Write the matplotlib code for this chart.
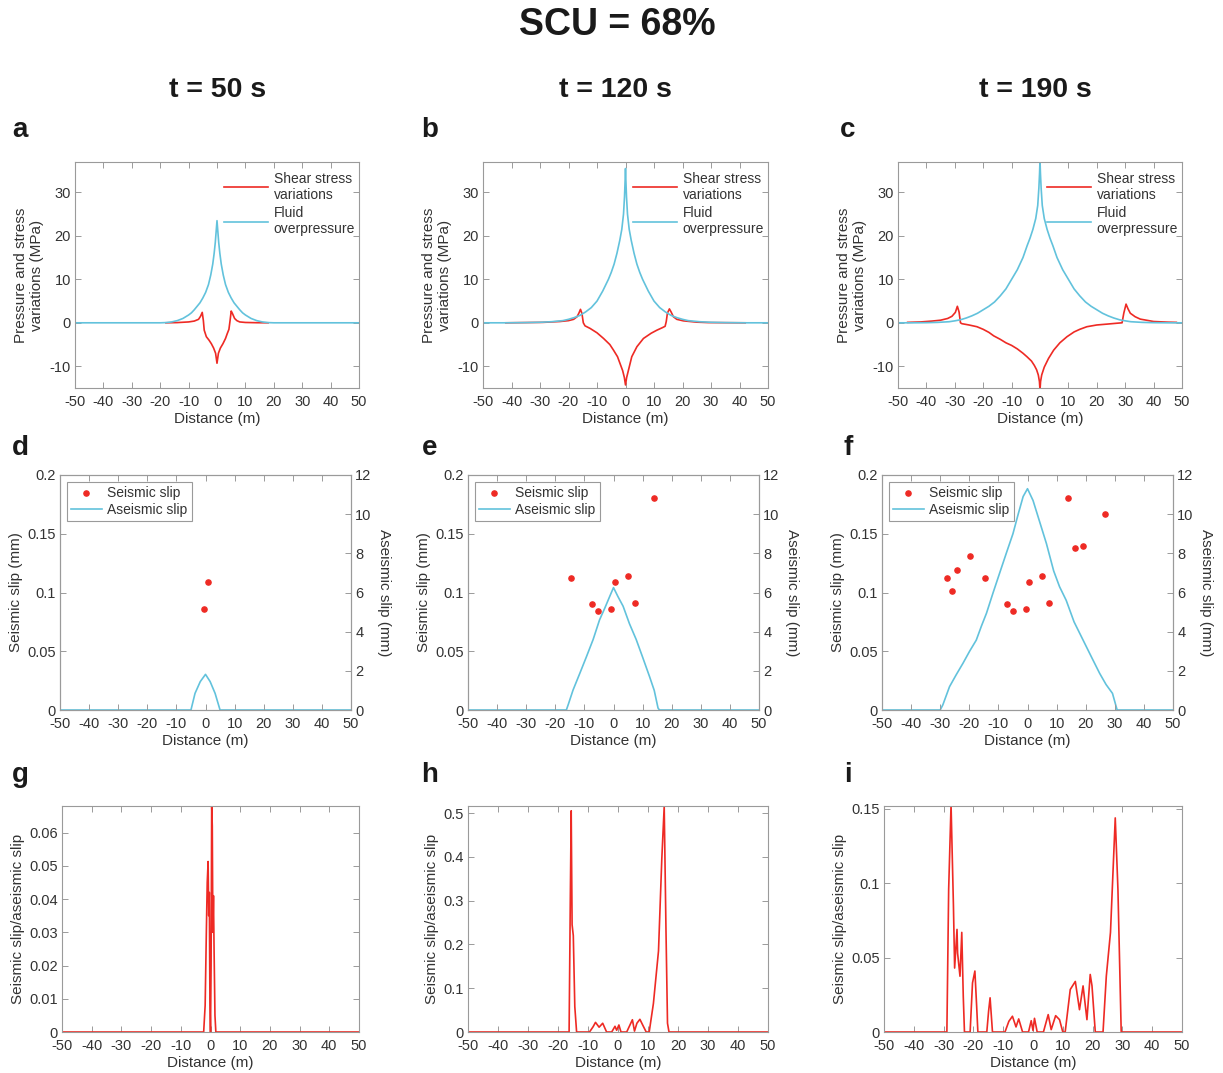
import numpy as np
import matplotlib
matplotlib.use('Agg')
import matplotlib.pyplot as plt

plt.rcParams['font.family'] = ['Liberation Sans', 'DejaVu Sans']
plt.rcParams['axes.unicode_minus'] = False
plt.rcParams['text.color'] = '#333333'
plt.rcParams['axes.labelcolor'] = '#333333'
plt.rcParams['xtick.color'] = '#333333'
plt.rcParams['ytick.color'] = '#333333'

RED = '#EE2A24'
CYAN = '#62C2DC'
EDGE = '#9a9a9a'

# ---- row 1: fluid overpressure / shear stress (MPa) ----
fluid_a_x = [-50, -20, -18, -16, -14, -12, -10, -9, -8, -7, -6, -5, -4, -3, -2.2, -1.5, -1, -0.6, -0.3, 0,
             0.3, 0.6, 1, 1.5, 2.2, 3, 4, 5, 6, 7, 8, 9, 10, 12, 14, 16, 18, 20, 50]
fluid_a_y = [0, 0, 0.05, 0.2, 0.5, 1.0, 1.8, 2.3, 3.0, 3.8, 4.6, 5.7, 7.0, 8.8, 11, 13.5, 16, 18.5, 21, 23.5,
             21, 18.5, 16, 13.5, 11, 8.8, 7.0, 5.7, 4.6, 3.8, 3.0, 2.3, 1.8, 1.0, 0.5, 0.2, 0.05, 0, 0]
shear_a_x = [-18, -14, -10, -8, -6.5, -5.8, -5.2, -4.8, -4.5, -3.75, -2.8, -2, -1.2, -0.5, 0,
             0.5, 1.2, 2.1, 3, 3.6, 4.2, 4.6, 5.0, 5.4, 6.2, 7, 8, 10, 14, 18]
shear_a_y = [0, 0.05, 0.2, 0.4, 0.8, 1.5, 2.4, 0.5, -1.7, -3.2, -4.0, -4.8, -5.8, -7.0, -9.3,
             -7.0, -5.8, -4.8, -3.6, -2.5, -1.5, 0.5, 2.7, 2.2, 1.0, 0.5, 0.2, 0.08, 0.02, 0]

fluid_b_x = [-50, -42, -35, -30, -26, -22, -20, -18, -16, -14, -12, -10, -8, -6, -5, -4, -3, -2, -1.3,
             -0.7, -0.35, -0.12, 0, 0.12, 0.35, 0.7, 1.3, 2, 3, 4, 5, 6, 8, 10, 12, 14, 16, 18, 20, 22,
             26, 30, 35, 42, 50]
fluid_b_y = [0, 0, 0.05, 0.12, 0.25, 0.5, 0.8, 1.2, 1.7, 2.5, 3.5, 5.0, 7.3, 10, 11.6, 13.5, 16, 19,
             21.5, 25, 29, 33, 35.5, 33, 29, 25, 21.5, 19, 16, 13.5, 11.6, 10, 7.3, 5.0, 3.5, 2.5, 1.7,
             1.2, 0.8, 0.5, 0.25, 0.12, 0.05, 0, 0]
shear_b_x = [-42, -29, -23, -20, -18.2, -17, -16.3, -15.8, -15.3, -14.8, -14.2, -12.4, -10, -7.7,
             -5.5, -4.2, -2.8, -1.9, -1, -0.4, 0, 0.4, 1, 2.2, 4, 6.3, 9, 11, 13, 13.9, 14.3,
             14.7, 15.4, 16, 16.8, 18, 20.3, 25, 29, 42]
shear_b_y = [0, 0.1, 0.3, 0.5, 0.8, 1.4, 2.3, 3.1, 2.2, 0, -0.7, -1.3, -2.3, -3.6,
             -5.0, -6.3, -7.8, -9.4, -11, -12.6, -14.3, -12.6, -11, -7.8, -5.5, -3.6, -2.4, -1.7, -1.1,
             -0.8, 0.3, 2.2, 3.2, 2.5, 1.4, 0.8, 0.45, 0.15, 0.05, 0]

fluid_c_x = [-50, -45, -40, -36, -32, -30, -28, -26, -24, -22, -20, -18, -16, -14, -12, -10, -8, -6,
             -4.5, -3.5, -2.5, -1.5, -0.8, -0.4, -0.15, 0, 0.15, 0.4, 0.8, 1.5, 2.5, 3.5, 4.5, 6, 8, 10,
             12, 14, 16, 18, 20, 22, 24, 26, 28, 30, 32, 36, 40, 45, 50]
fluid_c_y = [0, 0, 0.03, 0.1, 0.25, 0.45, 0.7, 1.1, 1.6, 2.2, 3.0, 3.8, 4.8, 6.2, 7.8, 10, 12.2, 15,
             17.8, 19.5, 21.5, 24, 27, 31, 34.5, 37.5, 34.5, 31, 27, 24, 21.5, 19.5, 17.8, 15, 12.2, 10,
             7.8, 6.2, 4.8, 3.8, 3.0, 2.2, 1.6, 1.1, 0.7, 0.45, 0.25, 0.1, 0.03, 0, 0]
shear_c_x = [-46.6, -42, -38, -35, -32.5, -31, -29.8, -29.1, -28.5, -28, -27.5, -25, -22.2, -20, -18,
             -16.3, -14, -12, -10, -8, -6, -4.6, -3, -2, -1.2, -0.6, -0.2, 0, 0.2, 0.6, 1.5, 3, 4.8, 7,
             9.5, 12, 14, 16.5, 20, 23.6, 27, 28.9, 29.5, 30.3, 31, 31.8, 33.5, 35.3, 40, 45, 48]
shear_c_y = [0.1, 0.2, 0.4, 0.6, 1.0, 1.5, 2.4, 3.8, 2.5, 0, -0.2, -0.5, -0.9, -1.5, -2.2,
             -3.0, -3.8, -4.6, -5.2, -6.0, -7.0, -7.8, -8.8, -9.8, -10.8, -12.0, -13.5, -15.5, -13.5,
             -12.0, -10.2, -8.2, -6.3, -4.6, -3.2, -2.1, -1.5, -0.9, -0.5, -0.3, -0.1, 0, 2.2, 4.3,
             3.2, 2.2, 1.4, 0.85, 0.3, 0.15, 0.1]

# ---- row 2: seismic (mm, points) and aseismic (mm, line) slip ----
aseis_d_x = [-50, -5, -3.6, -1.8, 0, 1.6, 3.3, 5, 50]
aseis_d_y = [0, 0, 0.85, 1.45, 1.82, 1.45, 0.85, 0, 0]
seis_d_x = [-0.6, 0.7]
seis_d_y = [0.0857, 0.1087]

aseis_e_x = [-50, -16.2, -15.5, -13.9, -11.5, -9.3, -7, -4.8, -3, -1.3, 0, 1.5, 3.3, 5.5, 7.8,
             10, 12.4, 14, 15.3, 15.8, 50]
aseis_e_y = [0, 0, 0.3, 1.02, 1.9, 2.72, 3.6, 4.6, 5.2, 5.8, 6.25, 5.8, 5.3, 4.4, 3.6,
             2.7, 1.7, 1.0, 0.1, 0, 0]
seis_e_x = [-14.6, -7.3, -5.2, -0.75, 0.4, 5.0, 7.5, 13.9]
seis_e_y = [0.1123, 0.0902, 0.0843, 0.0857, 0.1087, 0.114, 0.0913, 0.1807]

aseis_f_x = [-50, -30, -29.1, -26.8, -24.5, -22.2, -19.9, -17.6, -15.8, -14.1, -11.8, -9.6, -7.3,
             -5, -3.2, -1.5, 0, 1.9, 4.2, 6.5, 9, 11, 13.3, 16, 19.1, 22, 24.8, 27, 29.2, 30.8, 50]
aseis_f_y = [0, 0, 0.26, 1.19, 1.8, 2.38, 3.0, 3.57, 4.3, 4.94, 6.0, 6.98, 8.0,
             9.0, 10.0, 10.9, 11.3, 10.7, 9.6, 8.5, 7.1, 6.3, 5.6, 4.5, 3.57, 2.7, 1.87, 1.3, 0.85, 0, 0]
seis_f_x = [-27.7, -25.8, -24.3, -19.7, -14.6, -7.0, -5.1, -0.5, 0.5, 5.1, 7.5, 13.9, 16.4, 19.1, 26.8]
seis_f_y = [0.1126, 0.101, 0.119, 0.1308, 0.1126, 0.0905, 0.084, 0.0857, 0.1087, 0.114, 0.0913,
            0.1807, 0.1379, 0.1396, 0.167]

# ---- row 3: seismic/aseismic slip ratio ----
ratio_g_x = [-50, -2.3, -1.8, -1.4, -1.1, -0.8, -0.6, -0.4, -0.2, 0, 0.2, 0.4, 0.6, 0.8, 1.0, 1.2, 1.5, 1.8, 50]
ratio_g_y = [0, 0, 0.008, 0.03, 0.045, 0.0513, 0.035, 0.042, 0.01, 0, 0.02, 0.068, 0.062, 0.03, 0.041,
             0.025, 0.005, 0, 0]

ratio_h_x = [-50, -16.3, -15.9, -15.6, -15.3, -14.9, -14.4, -13.8, -9.5, -8.3, -7.5, -6.3, -5.1, -3.8,
             -2.1, -1.0, -0.45, 0.3, 1.0, 2.9, 4.8, 5.5, 6.3, 7.3, 8.3, 9.4, 10.4, 11.8, 13.5, 14.6,
             15.4, 16.0, 16.5, 17.0, 50]
ratio_h_y = [0, 0, 0.3, 0.505, 0.245, 0.22, 0.058, 0, 0, 0.012, 0.022, 0.011, 0.02, 0,
             0, 0.013, 0.004, 0.016, 0, 0, 0.028, 0.002, 0.02, 0.029, 0.015, 0, 0, 0.065, 0.185, 0.395,
             0.515, 0.23, 0.02, 0, 0]

ratio_i_x = [-50, -28.9, -28.3, -27.5, -26.7, -26.3, -25.5, -25.3, -24.5, -23.9, -23.4, -23, -21.1,
             -20.3, -19.5, -18.9, -18.5, -15.5, -14.9, -14.4, -13.6, -9.4, -8.1, -6.9, -5.7, -4.8,
             -3.5, -1.5, -0.6, 0, 0.5, 1.4, 3.5, 5.1, 6.1, 7.6, 8.9, 10, 10.8, 12.5, 14.2, 15.6,
             16.8, 18.1, 19.2, 19.8, 20.9, 23.5, 24.6, 26, 27.6, 28.5, 29.6, 50]
ratio_i_y = [0, 0, 0.096, 0.153, 0.085, 0.043, 0.069, 0.053, 0.0375, 0.067, 0.024, 0, 0,
             0.033, 0.041, 0.017, 0, 0, 0.014, 0.023, 0, 0, 0.0072, 0.0106, 0.0034, 0.0088,
             0, 0, 0.0076, 0.001, 0.0092, 0, 0, 0.0117, 0.0016, 0.011, 0.0083, 0, 0, 0.0286, 0.034, 0.015,
             0.031, 0.0083, 0.0387, 0.031, 0, 0, 0.0375, 0.067, 0.144, 0.096, 0, 0]

W, H = 1223, 1073
fig = plt.figure(figsize=(W / 100, H / 100), dpi=100)


def add_ax(l, r, t, b):
    return fig.add_axes([l / W, 1 - b / H, (r - l) / W, (b - t) / H])


def style(ax, right=True):
    for s in ax.spines.values():
        s.set_color(EDGE)
        s.set_linewidth(0.8)
    ax.tick_params(direction='in', length=4, width=0.7, color=EDGE, labelsize=10.5,
                   top=True, right=right, pad=3)
    ax.tick_params(axis='x', pad=5)
    ax.set_xlim(-50, 50)
    ax.set_xticks(np.arange(-50, 51, 10))
    ax.set_xlabel('Distance (m)', fontsize=11, labelpad=2)


# top row
top = [((75, 359), fluid_a_x, fluid_a_y, shear_a_x, shear_a_y),
       ((483, 768), fluid_b_x, fluid_b_y, shear_b_x, shear_b_y),
       ((898, 1182), fluid_c_x, fluid_c_y, shear_c_x, shear_c_y)]
for (l, r), fx, fy, sx, sy in top:
    ax = add_ax(l, r, 162, 388)
    ax.plot(sx, sy, color=RED, lw=1.2, label='Shear stress\nvariations')
    ax.plot(fx, fy, color=CYAN, lw=1.2, label='Fluid\noverpressure')
    style(ax)
    ax.set_ylim(-15, 37)
    ax.set_yticks([-10, 0, 10, 20, 30])
    ax.set_ylabel('Pressure and stress\nvariations (MPa)', fontsize=11, labelpad=4)
    ax.legend(loc='upper right', frameon=False, fontsize=10, handlelength=3.2,
              handletextpad=0.4, labelspacing=0.3, borderaxespad=0.3,
              bbox_to_anchor=(1.02, 1.0))

# middle row
mid = [((60, 351), aseis_d_x, aseis_d_y, seis_d_x, seis_d_y),
       ((468, 759), aseis_e_x, aseis_e_y, seis_e_x, seis_e_y),
       ((882, 1173), aseis_f_x, aseis_f_y, seis_f_x, seis_f_y)]
for (l, r), ax_x, ax_y, sx, sy in mid:
    ax = add_ax(l, r, 475, 710)
    ax2 = ax.twinx()
    h1 = ax.scatter(sx, sy, s=14, color=RED, zorder=3, label='Seismic slip')
    h2, = ax2.plot(ax_x, ax_y, color=CYAN, lw=1.2, label='Aseismic slip')
    style(ax, right=False)
    for s in ax2.spines.values():
        s.set_color(EDGE)
        s.set_linewidth(0.8)
    ax2.tick_params(direction='in', length=4, width=0.7, color=EDGE, labelsize=10.5, pad=3)
    ax.set_ylim(0, 0.2)
    ax.set_yticks([0, 0.05, 0.1, 0.15, 0.2])
    ax.set_yticklabels(['0', '0.05', '0.1', '0.15', '0.2'])
    ax2.set_ylim(0, 12)
    ax2.set_yticks(np.arange(0, 13, 2))
    ax.set_ylabel('Seismic slip (mm)', fontsize=11, labelpad=3)
    ax2.set_ylabel('Aseismic slip (mm)', fontsize=11, rotation=-90, labelpad=14)
    ax.set_zorder(ax2.get_zorder() + 1)
    ax.patch.set_visible(False)
    leg = ax.legend([h1, h2], ['Seismic slip', 'Aseismic slip'], loc='upper left', fontsize=10,
                    fancybox=False, edgecolor=EDGE, framealpha=1, handlelength=2.2,
                    handletextpad=0.4, labelspacing=0.2, borderaxespad=0.5, borderpad=0.3)
    leg.get_frame().set_linewidth(0.8)

# bottom row
bot = [((62, 359), ratio_g_x, ratio_g_y, 0.068, [0, 0.01, 0.02, 0.03, 0.04, 0.05, 0.06],
        ['0', '0.01', '0.02', '0.03', '0.04', '0.05', '0.06']),
       ((468, 768), ratio_h_x, ratio_h_y, 0.516, [0, 0.1, 0.2, 0.3, 0.4, 0.5],
        ['0', '0.1', '0.2', '0.3', '0.4', '0.5']),
       ((884, 1182), ratio_i_x, ratio_i_y, 0.152, [0, 0.05, 0.1, 0.15],
        ['0', '0.05', '0.1', '0.15'])]
for (l, r), rx, ry, ytop, yt, ytl in bot:
    ax = add_ax(l, r, 806, 1032)
    ax.plot(rx, ry, color=RED, lw=1.2)
    style(ax)
    ax.set_ylim(0, ytop)
    ax.set_yticks(yt)
    ax.set_yticklabels(ytl)
    ax.set_ylabel('Seismic slip/aseismic slip', fontsize=11, labelpad=3)

# titles and panel letters
fig.text(617 / W, 1 - 25 / H, 'SCU = 68%', ha='center', va='center', fontsize=27, fontweight='bold',
         color='#1a1a1a')
for x, t in [(218, 't = 50 s'), (615, 't = 120 s'), (1035, 't = 190 s')]:
    fig.text(x / W, 1 - 90 / H, t, ha='center', va='center', fontsize=20.5, fontweight='bold',
             color='#1a1a1a')
letters = [('a', 20, 130), ('b', 430, 130), ('c', 848, 130),
           ('d', 20, 448), ('e', 430, 448), ('f', 848, 448),
           ('g', 20, 775), ('h', 430, 775), ('i', 848, 775)]
for s, x, y in letters:
    fig.text(x / W, 1 - y / H, s, ha='center', va='center', fontsize=20, fontweight='bold',
             color='#1a1a1a')

fig.savefig('out.png', dpi=100, facecolor='white')
